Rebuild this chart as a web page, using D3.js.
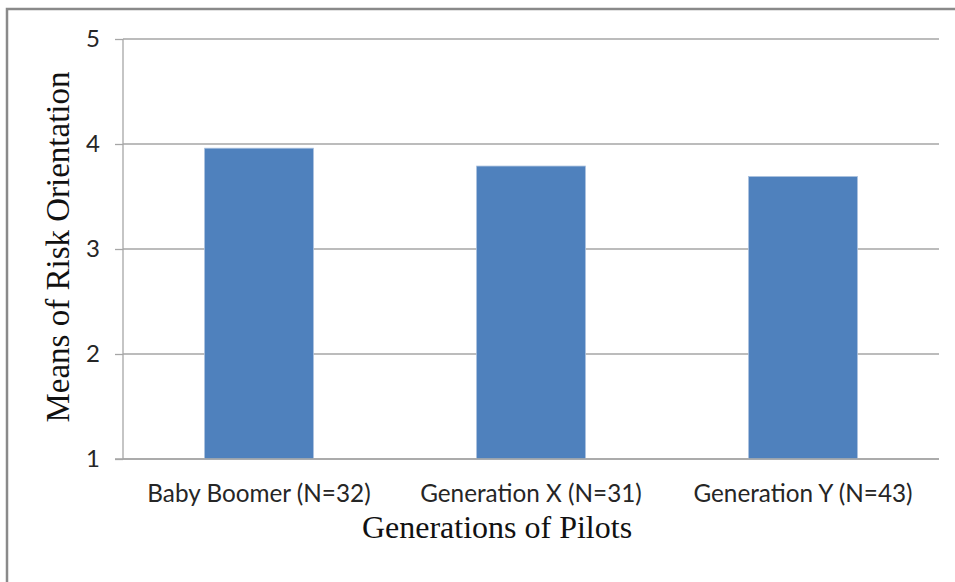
<!DOCTYPE html>
<html>
<head>
<meta charset="utf-8">
<script src="https://cdn.jsdelivr.net/npm/d3@7"></script>
<style>
  html, body { margin: 0; padding: 0; background: #fff; }
  svg { display: block; }
</style>
</head>
<body>
<svg id="chart" width="955" height="582"></svg>
<script>
// Mean risk orientation by pilot generation
const categories = ["Baby Boomer (N=32)", "Generation X (N=31)", "Generation Y (N=43)"];
const means = [3.96, 3.79, 3.69];
const yTicks = [1, 2, 3, 4, 5];

const svg = d3.select("#chart");
const W = 955, H = 582;
const margin = { top: 39, right: 16, bottom: 123, left: 123 };
const innerW = W - margin.left - margin.right;
const innerH = H - margin.top - margin.bottom;

// Outer frame (open on the right and bottom)
svg.append("path")
  .attr("d", `M7,${H + 5} L7,9 L${W + 5},9`)
  .attr("fill", "none")
  .attr("stroke", "#8a8a8a")
  .attr("stroke-width", 2.5);

const g = svg.append("g").attr("transform", `translate(${margin.left},${margin.top})`);

const x = d3.scaleBand()
  .domain(categories)
  .range([0, innerW])
  .paddingInner(0.6)
  .paddingOuter(0.3);

const y = d3.scaleLinear()
  .domain([1, 5])
  .range([innerH, 0]);

// Horizontal gridlines
g.append("g")
  .selectAll("line")
  .data(yTicks)
  .join("line")
  .attr("x1", 0)
  .attr("x2", innerW)
  .attr("y1", d => y(d))
  .attr("y2", d => y(d))
  .attr("stroke", "#a6a6a6")
  .attr("stroke-width", 1.3);

// Bars
g.append("g")
  .selectAll("rect")
  .data(categories)
  .join("rect")
  .attr("x", d => x(d))
  .attr("width", x.bandwidth())
  .attr("y", (d, i) => y(means[i]))
  .attr("height", (d, i) => y(1) - y(means[i]))
  .attr("fill", "#4f81bd")
  .attr("stroke", "#a9c0de")
  .attr("stroke-width", 0.8);

// Y axis
const yAxis = g.append("g")
  .call(d3.axisLeft(y).tickValues(yTicks).tickFormat(d3.format("d")).tickSize(8).tickPadding(15));
yAxis.select(".domain").attr("stroke", "#a6a6a6").attr("stroke-width", 1.3)
  .attr("d", `M0,${innerH}V0`);
yAxis.selectAll(".tick line").attr("stroke", "#a6a6a6").attr("stroke-width", 1.3);
yAxis.selectAll(".tick text")
  .attr("fill", "#262626")
  .style("font-family", "Lato, 'Open Sans', sans-serif")
  .style("font-size", "24px");

// X axis
const xAxis = g.append("g")
  .attr("transform", `translate(0,${innerH})`)
  .call(d3.axisBottom(x).tickSize(0).tickPadding(26));
xAxis.select(".domain").attr("stroke", "#a6a6a6").attr("stroke-width", 1.3)
  .attr("d", `M-8,0H${innerW}`);
xAxis.selectAll(".tick text")
  .attr("fill", "#262626")
  .style("font-family", "Lato, 'Open Sans', sans-serif")
  .style("font-size", "24.3px");

// Axis titles
svg.append("text")
  .attr("x", 497)
  .attr("y", 538)
  .attr("text-anchor", "middle")
  .attr("fill", "#111")
  .style("font-family", "'Liberation Serif', 'Times New Roman', serif")
  .style("font-size", "32px")
  .text("Generations of Pilots");

svg.append("text")
  .attr("transform", `translate(69,${margin.top + innerH / 2 - 2}) rotate(-90)`)
  .attr("text-anchor", "middle")
  .attr("fill", "#111")
  .style("font-family", "'Liberation Serif', 'Times New Roman', serif")
  .style("font-size", "33px")
  .text("Means of Risk Orientation");
</script>
</body>
</html>
